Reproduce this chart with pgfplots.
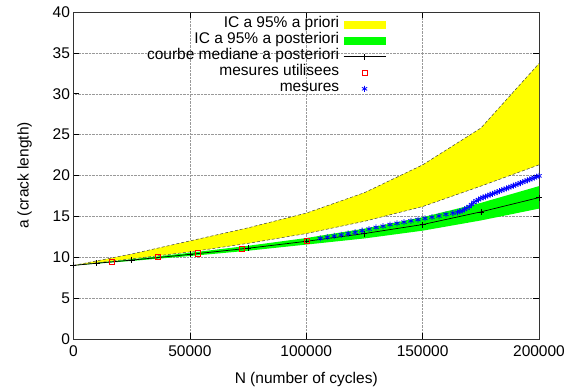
\documentclass[border=0pt]{standalone}
\usepackage{pgfplots}
\pgfplotsset{compat=1.18}
\usepackage{fontspec}
\setmainfont{Liberation Sans}
\definecolor{gyellow}{RGB}{255,255,0}
\definecolor{ggreen}{RGB}{0,255,0}
\begin{document}
\begin{tikzpicture}
\begin{axis}[
  scale only axis,
  width=465.5pt, height=327pt,
  xmin=0, xmax=200000, ymin=0, ymax=40,
  xtick={0,50000,100000,150000,200000},
  ytick={0,5,...,40},
  scaled ticks=false,
  /pgf/number format/assume math mode=true,
  /pgf/number format/set thousands separator={},
  /pgf/number format/fixed,
  tick label style={font=\fontsize{15.5}{17}\selectfont},
  xticklabel style={yshift=-3pt},
  label style={font=\fontsize{15.5}{17}\selectfont},
  xlabel={N (number of cycles)},
  ylabel={a (crack length)},
  xlabel style={yshift=-9pt},
  ylabel style={yshift=14pt},
  grid=major,
  grid style={densely dotted, gray!80, line width=0.4pt},
  tick align=inside,
  major tick length=6pt,
  tick style={black, line width=0.6pt},
  axis line style={black!80, line width=0.8pt},
  legend plot pos=right,
  legend cell align=right,
  legend style={draw=none, fill=none, at={(rel axis cs:0.678,0.992)}, anchor=north east,
    font=\fontsize{15.5}{17}\selectfont, row sep=0pt,
    nodes={inner xsep=4pt, inner ysep=0pt, text height=11pt, text depth=5pt}},
]
% a priori band (upper forward, lower backward)
\addplot[fill=gyellow, draw=none,
  legend image code/.code={\fill[gyellow] (0pt,-4pt) rectangle (42pt,4pt);}]
 coordinates {
 (0,9.0) (25000,10.4) (50000,12.0) (75000,13.6) (100000,15.4) (125000,17.9) (150000,21.3) (175000,25.8) (200000,33.7)
 (200000,21.3) (175000,18.7) (150000,16.2) (125000,14.4) (100000,12.9) (75000,11.7) (50000,10.65) (25000,9.8) (0,9.0)
 } -- cycle;
\addlegendentry{IC a 95\% a priori}
\addplot[forget plot, black!75, densely dashed, line width=0.5pt]
 coordinates {(0,9.0) (25000,10.4) (50000,12.0) (75000,13.6) (100000,15.4) (125000,17.9) (150000,21.3) (175000,25.8) (200000,33.7)};
\addplot[forget plot, black!75, densely dashed, line width=0.5pt]
 coordinates {(0,9.0) (25000,9.8) (50000,10.65) (75000,11.7) (100000,12.9) (125000,14.4) (150000,16.2) (175000,18.7) (200000,21.3)};
% a posteriori band
\addplot[fill=ggreen, draw=none,
  legend image code/.code={\fill[ggreen] (0pt,-4pt) rectangle (42pt,4pt);}]
 coordinates {
 (0,9.0) (25000,9.75) (50000,10.55) (75000,11.4) (100000,12.35) (125000,13.5) (150000,14.9) (175000,16.65) (200000,18.7)
 (200000,15.95) (175000,14.5) (150000,13.25) (125000,12.3) (100000,11.55) (75000,10.8) (50000,10.15) (25000,9.55) (0,9.0)
 } -- cycle;
\addlegendentry{IC a 95\% a posteriori}
% median
\addplot[black, line width=0.7pt, mark=+, mark size=3pt, mark options={solid, line width=0.6pt},
  legend image code/.code={\draw[black, line width=0.7pt] (0pt,0pt) -- (42pt,0pt); \draw[black,line width=0.6pt] (21pt,-3pt) -- (21pt,3pt);}]
 coordinates {(0,9.0) (10000,9.27) (25000,9.65) (50000,10.35) (75000,11.1) (100000,11.95) (125000,12.9) (150000,14.0) (175000,15.55) (200000,17.3)};
\addlegendentry{courbe mediane a posteriori}
% used measures
\addplot[only marks, red, mark=square, mark size=2.6pt, mark options={line width=0.7pt},
  legend image code/.code={\draw[red, line width=0.7pt] (18.5pt,-2.5pt) rectangle (23.5pt,2.5pt);}]
 coordinates {(16400,9.39) (36400,10.05) (53400,10.48) (72300,11.0) (100400,12.05)};
\addlegendentry{mesures utilisees}
% measures
\addplot[only marks, blue, mark=asterisk, mark size=3pt, mark options={line width=0.8pt},
  legend image code/.code={\path[blue, line width=0.8pt, mark=asterisk, mark size=3pt, mark options={draw=blue}] plot coordinates {(21pt,0pt)};}]
 coordinates {
 (106000,12.3) (109000,12.45) (112000,12.6) (115000,12.75) (118000,12.9) (121000,13.05)
 (124000,13.25) (127000,13.45) (130000,13.65) (133000,13.8) (136000,14.0) (139000,14.15)
 (142000,14.3) (145000,14.45) (148000,14.6) (151000,14.75) (154000,14.9) (157000,15.05)
 (160000,15.25) (163000,15.4) (165000,15.5) (166000,15.6) (167000,15.7) (168000,15.85)
 (169000,16.0) (170000,16.2) (171000,16.45) (172000,16.7) (173000,16.9) (174000,17.05)
 (175000,17.2) (176000,17.32) (177000,17.43) (178000,17.54) (179000,17.65) (180000,17.76)
 (181000,17.87) (182000,17.98) (183000,18.09) (184000,18.2) (185000,18.31) (186000,18.42)
 (187000,18.53) (188000,18.64) (189000,18.75) (190000,18.86) (191000,18.97) (192000,19.08)
 (193000,19.19) (194000,19.3) (195000,19.41) (196000,19.52) (197000,19.63) (198000,19.74)
 (199000,19.85) (200000,19.95)
 };
\addlegendentry{mesures}
\end{axis}
\pgfresetboundingbox
\path (-73.5pt,-50pt) rectangle (492.5pt,339pt);
\end{tikzpicture}
\end{document}
